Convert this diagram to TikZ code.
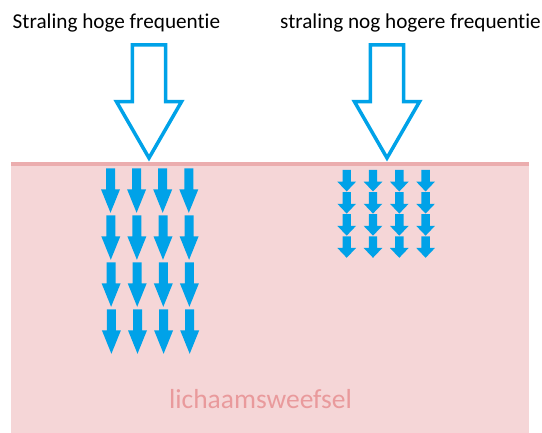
\documentclass[tikz,border=0pt]{standalone}
\usepackage{fontspec}
\setmainfont[Ligatures={NoCommon,NoRequired,NoContextual}]{Carlito}
\definecolor{arrowblue}{HTML}{00A2E8}
\definecolor{tissue}{HTML}{F5D6D7}
\definecolor{tissueline}{HTML}{EBADAE}
\definecolor{tissuetext}{HTML}{E99A9C}
\tikzset{
  bigarrow/.style={draw=arrowblue, fill=white, line width=3.5pt, line join=miter},
  smallarrow/.style={fill=arrowblue},
  titletext/.style={anchor=base west, inner sep=0pt, font=\fontsize{21.2}{25}\selectfont, text=black},
}
\begin{document}
\begin{tikzpicture}[x=1pt,y=-1pt]
\useasboundingbox (0,0) rectangle (542,433);
% tissue
\fill[tissue] (11,164) rectangle (529,433);
\draw[tissueline, line width=4pt] (11,164) -- (529,164);
% titles
\node[titletext] (t1) at (12.5,28.5) {Straling hoge frequentie};
\node[titletext] (t2) at (280,28.5) {straling nog hogere frequentie};
% big arrows
\foreach \cx in {149,387}{
  \draw[bigarrow] (\cx-16.7,45) -- (\cx+16.7,45) -- (\cx+16.7,101.7) -- (\cx+32.5,101.7)
    -- (\cx,158) -- (\cx-32.5,101.7) -- (\cx-16.7,101.7) -- cycle;
}
% small arrows group 1
\foreach \i in {0,...,3}{
  \foreach \j in {0,...,3}{
    \pgfmathsetmacro{\cx}{110.5+26.1*\i+0.3*\j}
    \pgfmathsetmacro{\ty}{168.3+47*\j}
    \fill[smallarrow] (\cx-4.5,\ty) -- (\cx+4.5,\ty) -- (\cx+4.5,\ty+21) -- (\cx+9.5,\ty+21)
      -- (\cx,\ty+44.5) -- (\cx-9.5,\ty+21) -- (\cx-4.5,\ty+21) -- cycle;
  }
}
% small arrows group 2
\foreach \i in {0,...,3}{
  \foreach \j in {0,...,3}{
    \pgfmathsetmacro{\cx}{346.7+26.3*\i}
    \pgfmathsetmacro{\ty}{170+22.1*\j}
    \fill[smallarrow] (\cx-4.2,\ty) -- (\cx+4.2,\ty) -- (\cx+4.2,\ty+11.7) -- (\cx+9.3,\ty+11.7)
      -- (\cx,\ty+21.5) -- (\cx-9.3,\ty+11.7) -- (\cx-4.2,\ty+11.7) -- cycle;
  }
}
% label
\node[inner sep=0pt, anchor=base, text=tissuetext, font=\fontsize{27.5}{32}\selectfont] (lbl) at (260.5,408.5) {lichaamsweefsel};
\end{tikzpicture}
\end{document}
